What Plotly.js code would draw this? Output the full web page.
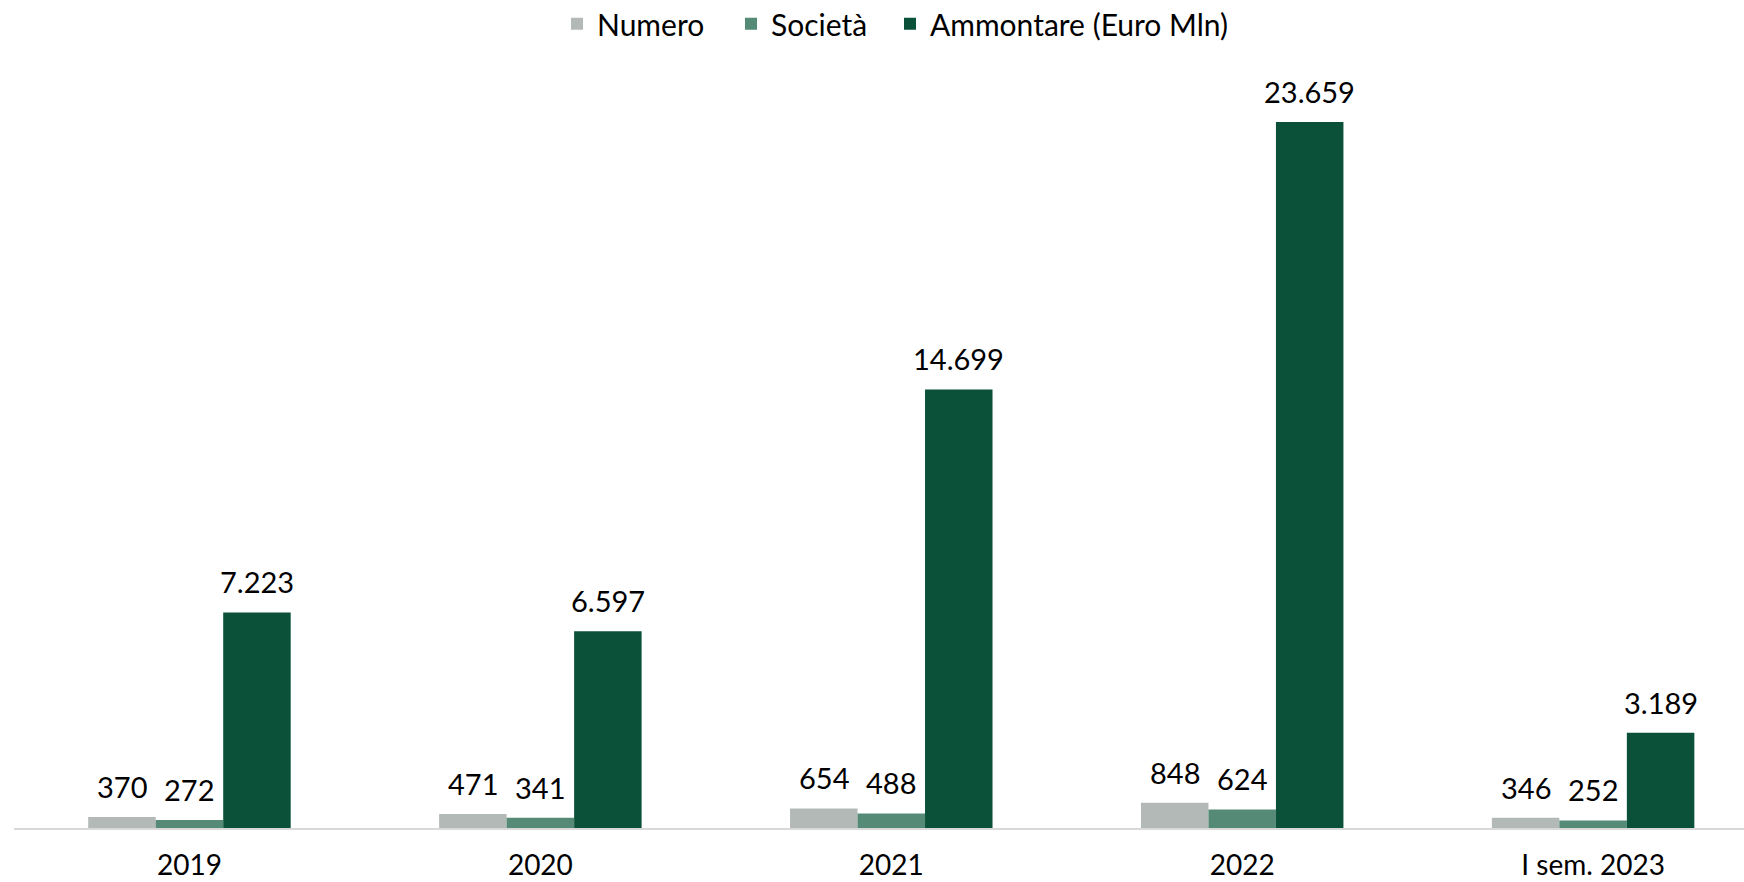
<!DOCTYPE html>
<html>
<head>
<meta charset="utf-8">
<script src="https://cdn.plot.ly/plotly-3.0.1.min.js"></script>
<style>html,body{margin:0;padding:0;background:#fff;}#chart{width:1744px;height:882px;}</style>
</head>
<body>
<div id="chart"></div>
<script>
const categories = ['2019', '2020', '2021', '2022', 'I sem. 2023'];
const seriesNames = ['Numero', 'Società', 'Ammontare (Euro Mln)'];
const numero = [370, 471, 654, 848, 346];
const societa = [272, 341, 488, 624, 252];
const ammontare = [7223, 6597, 14699, 23659, 3189];

const colors = ['#B3B9B6', '#558A77', '#0B5139'];
const allSeries = [numero, societa, ammontare];
const FONT = 'Lato, "Open Sans", sans-serif';
const bargap = 0.423;
const barW = (1 - bargap) / 3;
const legendIds = ['legend', 'legend2', 'legend3'];
const legendLeft = [557, 731, 890];

const traces = allSeries.map((vals, i) => ({
  type: 'bar',
  name: seriesNames[i],
  x: categories,
  y: vals,
  legend: legendIds[i],
  marker: {color: colors[i]},
  hoverinfo: 'skip'
}));

function fmt(v) {
  return v.toString().replace(/\B(?=(\d{3})+(?!\d))/g, '.');
}

const annotations = [];
allSeries.forEach((vals, i) => {
  vals.forEach((v, j) => {
    annotations.push({
      x: j + (i - 1) * barW,
      y: v,
      xref: 'x', yref: 'y',
      text: fmt(v),
      showarrow: false,
      yanchor: 'bottom',
      yshift: 11,
      font: {family: FONT, size: 29, color: '#000'}
    });
  });
});

const layout = {
  width: 1744,
  height: 882,
  margin: {l: 14, r: 0, t: 60, b: 54},
  paper_bgcolor: '#fff',
  plot_bgcolor: '#fff',
  barmode: 'group',
  bargap: bargap,
  bargroupgap: 0,
  separators: ',.',
  showlegend: true,
  xaxis: {
    type: 'category',
    range: [-0.5, 4.43],
    showline: true, linecolor: '#D9D9D9', linewidth: 2,
    showgrid: false, zeroline: false,
    ticks: 'outside', ticklen: 11, tickcolor: 'rgba(0,0,0,0)',
    tickfont: {family: FONT, size: 28, color: '#000'}
  },
  yaxis: {
    range: [0, 25737],
    visible: false,
    showgrid: false, zeroline: false
  },
  annotations: annotations
};

legendIds.forEach((id, i) => {
  layout[id] = {
    orientation: 'h',
    xref: 'container', x: legendLeft[i] / 1744, xanchor: 'left',
    yref: 'container', y: 0.973, yanchor: 'middle',
    font: {family: FONT, size: 30, color: '#000'},
    bgcolor: 'rgba(0,0,0,0)',
    itemclick: false, itemdoubleclick: false
  };
});

Plotly.newPlot('chart', traces, layout, {staticPlot: true, displayModeBar: false});
</script>
</body>
</html>
